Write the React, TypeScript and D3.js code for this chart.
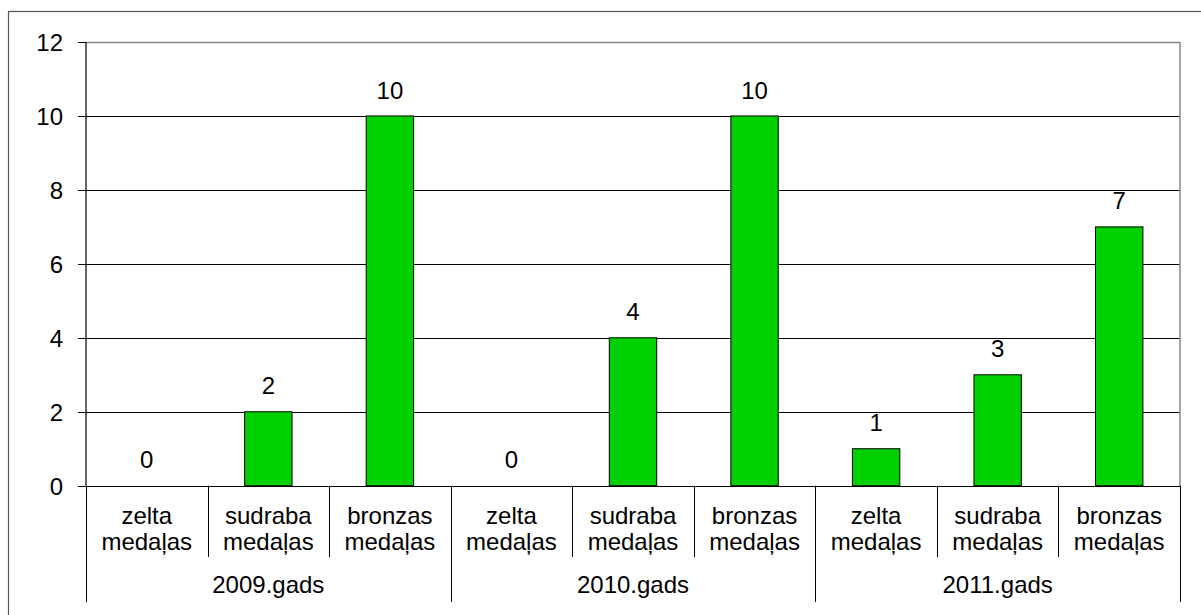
import React from "react";
import * as d3 from "d3";

const years = ["2009.gads", "2010.gads", "2011.gads"];
const medals = ["zelta", "sudraba", "bronzas"];
const values2009 = [0, 2, 10];
const values2010 = [0, 4, 10];
const values2011 = [1, 3, 7];
const yTicks = [0, 2, 4, 6, 8, 10, 12];

const seriesByYear = [values2009, values2010, values2011];

export default function App() {
  const W = 1201, H = 615;
  const left = 86, right = 1180, top = 42, bottom = 485.7;
  const font = "Arial, 'Liberation Sans', sans-serif";
  const fs = 24;

  const cats = years.flatMap((y, yi) => medals.map((m, mi) => ({ key: `${yi}-${mi}`, year: y, yi, medal: m, value: seriesByYear[yi][mi] })));

  const x = d3.scaleBand<string>().domain(cats.map(c => c.key)).range([left, right]).paddingInner(0).paddingOuter(0);
  const y = d3.scaleLinear().domain([0, 12]).range([bottom, top]);
  const bw = x.bandwidth() * 0.39;
  const groupW = x.bandwidth() * 3;

  return (
    <svg width={W} height={H} style={{ position: "absolute", left: 0, top: 0, background: "#fff" }} fontFamily={font}>
      {/* outer frame */}
      <rect x={8.5} y={11.5} width={W + 10} height={H + 10} fill="#fff" stroke="#555" strokeWidth={1.2} />
      {/* gridlines */}
      {yTicks.filter(t => t > 0 && t < 12).map(t => (
        <line key={t} x1={left} x2={right} y1={Math.round(y(t)) + 0.5} y2={Math.round(y(t)) + 0.5} stroke="#000" strokeWidth={1} />
      ))}
      {/* plot border top & right */}
      <line x1={left} x2={right} y1={Math.round(y(12)) + 0.5} y2={Math.round(y(12)) + 0.5} stroke="#888" strokeWidth={1.5} />
      <line x1={right} x2={right} y1={y(12)} y2={bottom} stroke="#888" strokeWidth={1.5} />
      {/* bars */}
      {cats.map(c => {
        const cx = (x(c.key) as number) + x.bandwidth() / 2;
        return c.value > 0 ? (
          <rect key={c.key} x={cx - bw / 2} y={y(c.value)} width={bw} height={bottom - y(c.value)} fill="#00D000" stroke="#000" strokeWidth={1} />
        ) : null;
      })}
      {/* value labels */}
      {cats.map(c => {
        const cx = (x(c.key) as number) + x.bandwidth() / 2;
        return (
          <text key={"l" + c.key} x={cx} y={y(c.value) - 17.4} textAnchor="middle" fontSize={fs} fill="#000">{c.value}</text>
        );
      })}
      {/* y axis */}
      <line x1={left} x2={left} y1={y(12)} y2={bottom} stroke="#000" strokeWidth={1.2} />
      {yTicks.map(t => (
        <g key={"t" + t}>
          <line x1={78} x2={left} y1={Math.round(y(t)) + 0.5} y2={Math.round(y(t)) + 0.5} stroke="#000" />
          <text x={63} y={y(t) + 9} textAnchor="end" fontSize={fs} fill="#000">{t}</text>
        </g>
      ))}
      {/* x axis */}
      <line x1={left} x2={right} y1={Math.round(bottom) + 0.5} y2={Math.round(bottom) + 0.5} stroke="#000" strokeWidth={1.2} />
      {cats.map((c, i) => {
        const x0 = x(c.key) as number;
        const cx = x0 + x.bandwidth() / 2;
        return (
          <g key={"c" + c.key}>
            {i % 3 !== 0 && <line x1={Math.round(x0) + 0.5} x2={Math.round(x0) + 0.5} y1={bottom} y2={557} stroke="#000" />}
            <text x={cx} y={523.5} textAnchor="middle" fontSize={fs} fill="#000">{c.medal}</text>
            <text x={cx} y={549.5} textAnchor="middle" fontSize={fs} fill="#000">medaļas</text>
          </g>
        );
      })}
      {years.map((yr, yi) => {
        const x0 = left + yi * groupW;
        return (
          <g key={"y" + yr}>
            <text x={x0 + groupW / 2} y={592.5} textAnchor="middle" fontSize={fs} fill="#000">{yr}</text>
          </g>
        );
      })}
      {[0, 1, 2, 3].map(i => {
        const gx = Math.round(left + i * groupW) + 0.5;
        return <line key={"gd" + i} x1={gx} x2={gx} y1={bottom} y2={602} stroke="#000" />;
      })}
    </svg>
  );
}
